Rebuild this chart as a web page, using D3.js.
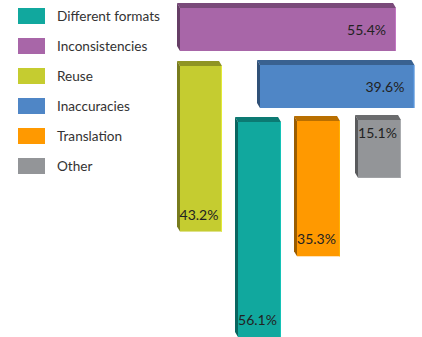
<!DOCTYPE html>
<html><head><meta charset="utf-8">
<script src="https://cdn.jsdelivr.net/npm/d3@7/dist/d3.min.js"></script>
<style>html,body{margin:0;padding:0;background:#fff;overflow:hidden}</style>
</head><body>
<script>
const categories = ["Different formats","Inconsistencies","Reuse","Inaccuracies","Translation","Other"];
const values = [56.1, 55.4, 43.2, 39.6, 35.3, 15.1];
const labels = ["56.1%","55.4%","43.2%","39.6%","35.3%","15.1%"];

const colors = ["#11A89E","#A866A8","#C5CC30","#4F86C6","#FF9900","#939598"];
// layout: orientation, anchor x/y, thickness, label placement
const layout = {
  "Different formats": {o:"v", x:238, y:122, t:43, lab:"end"},
  "Inconsistencies":   {o:"h", x:180, y:8,   t:43, lab:"end"},
  "Reuse":             {o:"v", x:180, y:66,  t:42, lab:"end"},
  "Inaccuracies":      {o:"h", x:260, y:65,  t:43, lab:"end"},
  "Translation":       {o:"v", x:297, y:121, t:43, lab:"end"},
  "Other":             {o:"v", x:358, y:120, t:43, lab:"start"}
};
const W = 422, H = 337, dx = -3, dy = -5;

const svg = d3.select("body").append("svg").attr("width", W).attr("height", H);
const color = d3.scaleOrdinal().domain(categories).range(colors);
const hScale = d3.scaleLinear().domain([0, 55.4]).range([0, 216]);
const vScale = d3.scaleLinear().domain([0, 56.1]).range([0, 215]);

// legend
const leg = svg.append("g");
const ly = d3.scaleBand().domain(categories).range([8, 188]).paddingInner(0);
categories.forEach(c => {
  const y = ly(c);
  leg.append("rect").attr("x", 18).attr("y", y).attr("width", 27).attr("height", 16).attr("fill", color(c));
  leg.append("text").attr("x", 57).attr("y", y + 13)
    .attr("font-family", "Lato, sans-serif").attr("font-size", 13.6).attr("fill", "#333").text(c);
});

const data = categories.map((c, i) => ({c, v: values[i], label: labels[i]}));
const g = svg.append("g");
data.forEach(d => {
  const L = layout[d.c];
  let x = L.x, y = L.y, w, h;
  if (L.o === "h") { w = hScale(d.v); h = L.t; } else { w = L.t; h = vScale(d.v); }
  const base = d3.color(color(d.c));
  const topC = base.darker(0.9), sideC = base.darker(1.4);
  const bg = g.append("g");
  bg.append("polygon").attr("points", [[x,y],[x+w,y],[x+w+dx,y+dy],[x+dx,y+dy]].map(p=>p.join(",")).join(" "))
    .attr("fill", topC);
  bg.append("polygon").attr("points", [[x,y],[x+dx,y+dy],[x+dx,y+h+dy],[x,y+h]].map(p=>p.join(",")).join(" "))
    .attr("fill", sideC);
  bg.append("rect").attr("x", x).attr("y", y).attr("width", w).attr("height", h).attr("fill", color(d.c));
  bg.append("line").attr("x1", x+w-0.5).attr("x2", x+w-0.5).attr("y1", y).attr("y2", y+h)
    .attr("stroke", base.brighter(0.4)).attr("stroke-width", 1);
  const t = bg.append("text").attr("font-family", "Lato, sans-serif").attr("font-size", 14).attr("fill", "#222").text(d.label);
  if (L.o === "h") {
    t.attr("x", x + w - 10).attr("y", y + h/2 + 5).attr("text-anchor", "end");
  } else if (L.lab === "end") {
    t.attr("x", x + w/2 - 2).attr("y", y + h - 12).attr("text-anchor", "middle");
  } else {
    t.attr("x", x + w/2 - 2).attr("y", y + 18).attr("text-anchor", "middle");
  }
});
</script>
</body></html>
